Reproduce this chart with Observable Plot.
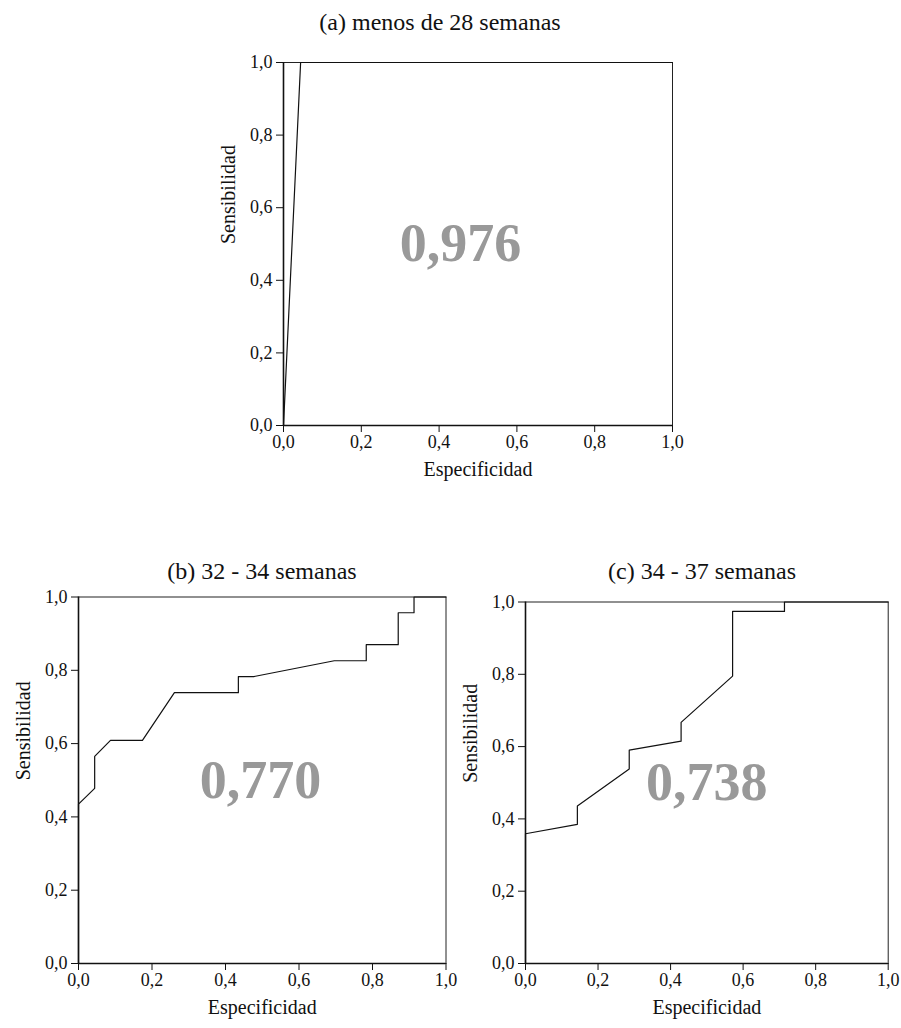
<!DOCTYPE html>
<html>
<head>
<meta charset="utf-8">
<script src="https://cdn.jsdelivr.net/npm/d3@7"></script>
<script src="https://cdn.jsdelivr.net/npm/@observablehq/plot@0.6"></script>
<style>
  html, body { margin: 0; padding: 0; background: #fff; }
  #root { position: relative; width: 901px; height: 1028px; font-family: "Liberation Serif", serif; }
  .panel { position: absolute; }
  .title { position: absolute; font-family: "Liberation Serif", serif; font-size: 24px; line-height: 28px; color: #111; text-align: center; white-space: nowrap; transform: translateX(-50%); }
</style>
</head>
<body>
<div id="root"></div>
<script>
// ---- data ----
const titles = ["(a) menos de 28 semanas", "(b) 32 - 34 semanas", "(c) 34 - 37 semanas"];
const aucLabels = ["0,976", "0,770", "0,738"];
const aucX = [0.455, 0.495, 0.5];
const aucY = [0.5, 0.5, 0.5];
const tickValues = [0, 0.2, 0.4, 0.6, 0.8, 1.0];
const tickLabels = ["0,0", "0,2", "0,4", "0,6", "0,8", "1,0"];
const xLabel = "Especificidad";
const yLabel = "Sensibilidad";

const specA = [0, 0.044, 1];
const sensA = [0, 1, 1];

const specB = [0, 0, 0.044, 0.044, 0.087, 0.174, 0.261, 0.435, 0.435, 0.478, 0.696, 0.783, 0.783, 0.870, 0.870, 0.913, 0.913, 1];
const sensB = [0, 0.435, 0.478, 0.565, 0.609, 0.609, 0.739, 0.739, 0.783, 0.783, 0.826, 0.826, 0.870, 0.870, 0.957, 0.957, 1, 1];

const specC = [0, 0, 0.143, 0.143, 0.286, 0.286, 0.429, 0.429, 0.571, 0.571, 0.714, 0.714, 1];
const sensC = [0, 0.359, 0.385, 0.436, 0.538, 0.590, 0.615, 0.667, 0.795, 0.974, 0.974, 1, 1];

// ---- layout ----
const panels = [
  {spec: specA, sens: sensA, left: 180, top: 40, width: 510, height: 460, mL: 103, mR: 18, mT: 22, mB: 75, titleX: 440, titleY: 8},
  {spec: specB, sens: sensB, left: 0, top: 580, width: 460, height: 448, mL: 78, mR: 14.5, mT: 16.5, mB: 65, titleX: 262, titleY: 557},
  {spec: specC, sens: sensC, left: 455, top: 585, width: 446, height: 443, mL: 70, mR: 13.3, mT: 16.5, mB: 65, titleX: 702, titleY: 557}
];

const root = document.getElementById("root");
const fmt = d => tickLabels[tickValues.findIndex(t => Math.abs(t - d) < 1e-9)];

panels.forEach((p, i) => {
  const data = p.spec.map((s, j) => ({spec: s, sens: p.sens[j]}));
  const chart = Plot.plot({
    width: p.width,
    height: p.height,
    marginLeft: p.mL,
    marginRight: p.mR,
    marginTop: p.mT,
    marginBottom: p.mB,
    x: {domain: [0, 1]},
    y: {domain: [0, 1]},
    style: {fontFamily: "Liberation Serif", fontSize: "18px", color: "#111", background: "transparent", overflow: "visible"},
    marks: [
      Plot.frame({stroke: "#222", strokeWidth: 1}),
      Plot.axisX({ticks: tickValues, tickFormat: fmt, tickSize: 7, tickPadding: 3, label: null, fontSize: 18}),
      Plot.axisY({ticks: tickValues, tickFormat: fmt, tickSize: 7, tickPadding: 4, label: null, fontSize: 18}),
      Plot.ruleX([0], {stroke: "#111", strokeWidth: 1.6}),
      Plot.ruleY([0], {stroke: "#111", strokeWidth: 1.6}),
      Plot.line(data, {x: "spec", y: "sens", stroke: "#111", strokeWidth: 1.2}),
      Plot.text([aucLabels[i]], {x: () => aucX[i], y: () => aucY[i], text: d => d, fontSize: 54, fontWeight: "bold", fill: "#999"}),
      Plot.text([xLabel], {text: d => d, frameAnchor: "bottom", dy: 50, fontSize: 20}),
      Plot.text([yLabel], {text: d => d, frameAnchor: "left", dx: -55, rotate: -90, fontSize: 20})
    ]
  });
  const wrap = document.createElement("div");
  wrap.className = "panel";
  wrap.style.left = p.left + "px";
  wrap.style.top = p.top + "px";
  wrap.appendChild(chart);
  root.appendChild(wrap);

  const t = document.createElement("div");
  t.className = "title";
  t.textContent = titles[i];
  t.style.left = p.titleX + "px";
  t.style.top = p.titleY + "px";
  root.appendChild(t);
});
</script>
</body>
</html>
